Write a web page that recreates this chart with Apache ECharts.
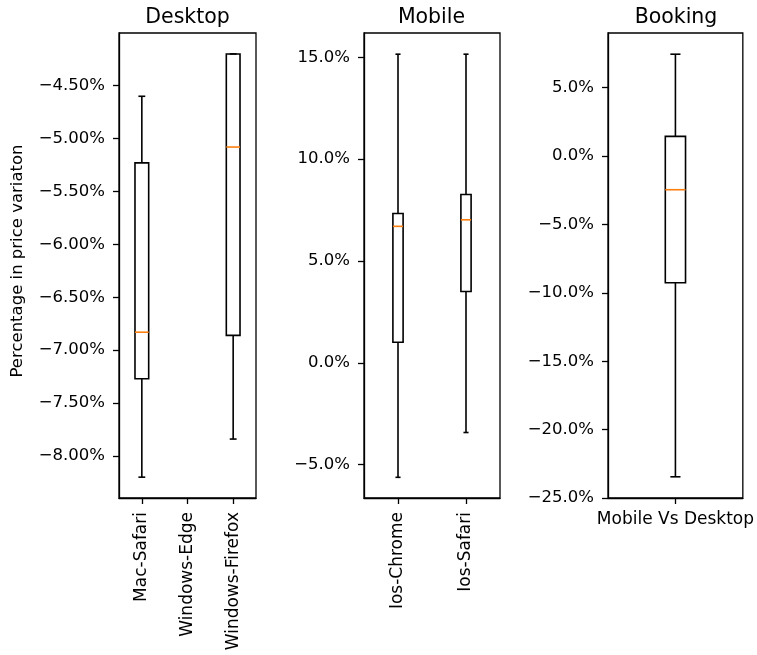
<!DOCTYPE html>
<html>
<head>
<meta charset="utf-8">
<title>Percentage in price variation</title>
<script src="https://cdn.jsdelivr.net/npm/echarts@6/dist/echarts.min.js"></script>
<style>
  html, body { margin: 0; padding: 0; background: #ffffff; }
  #chart { width: 757px; height: 655px; }
</style>
</head>
<body>
<div id="chart"></div>
<script>
// Box statistics per category, in percent: [lower whisker, Q1, median, Q3, upper whisker]
const desktopCategories = ['Mac-Safari', 'Windows-Edge', 'Windows-Firefox'];
const desktopStats = [
  [-8.20, -7.27, -6.83, -5.23, -4.60],
  null, // no Windows-Edge observations
  [-7.84, -6.86, -5.08, -4.20, -4.20]
];
const desktopTicks = [-8.0, -7.5, -7.0, -6.5, -6.0, -5.5, -5.0, -4.5];

const mobileCategories = ['Ios-Chrome', 'Ios-Safari'];
const mobileStats = [
  [-5.62, 1.01, 6.70, 7.33, 15.15],
  [-3.42, 3.50, 7.02, 8.26, 15.15]
];
const mobileTicks = [-5, 0, 5, 10, 15];

const bookingCategories = ['Mobile Vs Desktop'];
const bookingStats = [
  [-23.45, -9.26, -2.46, 1.44, 7.45]
];
const bookingTicks = [-25, -20, -15, -10, -5, 0, 5];

const FONT = 'DejaVu Sans';
const INK = '#000000';
const MEDIAN = '#ff7f0e';

function pct(decimals) {
  return function (v) {
    const s = Math.abs(v).toFixed(decimals) + '%';
    return (v < -1e-9 ? '\u2212' : '') + s;
  };
}

function toItems(stats) {
  const items = [];
  stats.forEach(function (s, i) {
    if (s) items.push([i].concat(s));
  });
  return items;
}

// Draws a matplotlib-style box: box Q1..Q3, whiskers with half-width caps, coloured median
function boxRenderer(widthFrac) {
  return function (params, api) {
    const x = api.value(0);
    const band = api.size([1, 0])[0];
    const half = band * widthFrac / 2;
    const capHalf = half / 2;
    const pLow = api.coord([x, api.value(1)]);
    const pQ1 = api.coord([x, api.value(2)]);
    const pMed = api.coord([x, api.value(3)]);
    const pQ3 = api.coord([x, api.value(4)]);
    const pHigh = api.coord([x, api.value(5)]);
    const cx = pQ1[0];
    const stroke = { stroke: INK, lineWidth: 1.6, fill: null };
    return {
      type: 'group',
      children: [
        { type: 'line', shape: { x1: cx, y1: pQ1[1], x2: cx, y2: pLow[1] }, style: stroke },
        { type: 'line', shape: { x1: cx, y1: pQ3[1], x2: cx, y2: pHigh[1] }, style: stroke },
        { type: 'line', shape: { x1: cx - capHalf, y1: pLow[1], x2: cx + capHalf, y2: pLow[1] }, style: stroke },
        { type: 'line', shape: { x1: cx - capHalf, y1: pHigh[1], x2: cx + capHalf, y2: pHigh[1] }, style: stroke },
        { type: 'rect', shape: { x: cx - half, y: pQ3[1], width: 2 * half, height: pQ1[1] - pQ3[1] },
          style: { stroke: INK, lineWidth: 1.6, fill: 'rgba(0,0,0,0)' } },
        { type: 'line', shape: { x1: cx - half, y1: pMed[1], x2: cx + half, y2: pMed[1] },
          style: { stroke: MEDIAN, lineWidth: 1.6 } }
      ]
    };
  };
}

const gridTop = 33;
const gridHeight = 465;
const grids = [
  { left: 119, top: gridTop, width: 137, height: gridHeight },
  { left: 364, top: gridTop, width: 136, height: gridHeight },
  { left: 608, top: gridTop, width: 136, height: gridHeight }
].map(function (g) {
  return Object.assign({ show: true, borderColor: INK, borderWidth: 1.3, backgroundColor: 'transparent', containLabel: false }, g);
});

function xAxisFor(idx, cats, rotate) {
  return {
    type: 'category', gridIndex: idx, data: cats, boundaryGap: true,
    axisLine: { show: true, onZero: false, lineStyle: { color: INK, width: 1.3 } },
    axisTick: { show: true, alignWithLabel: true, length: 6, lineStyle: { color: INK, width: 1.3 } },
    axisLabel: { rotate: rotate, margin: rotate ? 14 : 13, color: INK, fontFamily: FONT, fontSize: 17, interval: 0 },
    splitLine: { show: false }
  };
}

function yAxisFor(idx, min, max, ticks, decimals) {
  return {
    type: 'value', gridIndex: idx, min: min, max: max,
    axisLine: { show: true, onZero: false, lineStyle: { color: INK, width: 1.3 } },
    axisTick: { show: true, length: 6, customValues: ticks, lineStyle: { color: INK, width: 1.3 } },
    axisLabel: { customValues: ticks, formatter: pct(decimals), margin: 14, color: INK, fontFamily: FONT, fontSize: 16.5 },
    splitLine: { show: false }
  };
}

const titleStyle = { color: INK, fontFamily: FONT, fontSize: 20.5, fontWeight: 'normal' };

const option = {
  animation: false,
  backgroundColor: '#ffffff',
  title: [
    { text: 'Desktop', left: 182.5, top: 2, textAlign: 'center', textStyle: titleStyle },
    { text: 'Mobile', left: 426.5, top: 2, textAlign: 'center', textStyle: titleStyle },
    { text: 'Booking', left: 671, top: 2, textAlign: 'center', textStyle: titleStyle }
  ],
  grid: grids,
  xAxis: [
    xAxisFor(0, desktopCategories, 90),
    xAxisFor(1, mobileCategories, 90),
    xAxisFor(2, bookingCategories, 0)
  ],
  yAxis: [
    yAxisFor(0, -8.397, -4.002, desktopTicks, 2),
    yAxisFor(1, -6.635, 16.19, mobileTicks, 1),
    yAxisFor(2, -25.0, 9.0, bookingTicks, 1)
  ],
  graphic: [
    {
      type: 'text', x: 18, y: 261, rotation: Math.PI / 2,
      style: { text: 'Percentage in price variaton', fill: INK, font: '16.5px "DejaVu Sans"', align: 'center', verticalAlign: 'middle' }
    }
  ],
  series: [
    { type: 'custom', name: 'Desktop', xAxisIndex: 0, yAxisIndex: 0, renderItem: boxRenderer(0.3),
      encode: { x: 0, y: [1, 2, 3, 4, 5] }, data: toItems(desktopStats), silent: true },
    { type: 'custom', name: 'Mobile', xAxisIndex: 1, yAxisIndex: 1, renderItem: boxRenderer(0.15),
      encode: { x: 0, y: [1, 2, 3, 4, 5] }, data: toItems(mobileStats), silent: true },
    { type: 'custom', name: 'Booking', xAxisIndex: 2, yAxisIndex: 2, renderItem: boxRenderer(0.15),
      encode: { x: 0, y: [1, 2, 3, 4, 5] }, data: toItems(bookingStats), silent: true }
  ]
};

const chart = echarts.init(document.getElementById('chart'), null, { renderer: 'canvas' });
chart.setOption(option);
</script>
</body>
</html>
